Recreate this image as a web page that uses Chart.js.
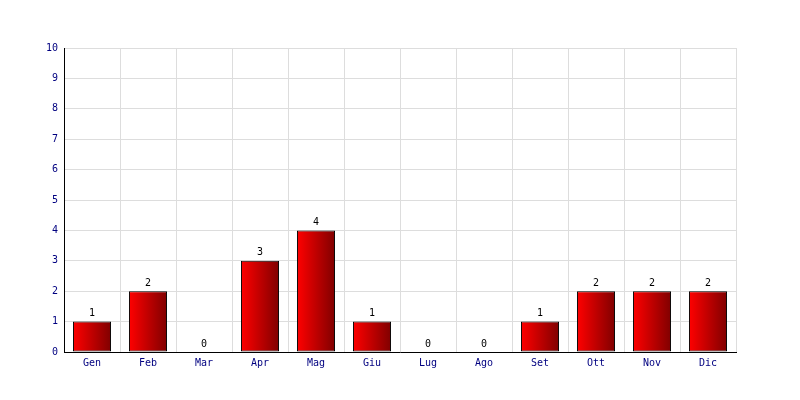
<!DOCTYPE html>
<html>
<head>
<meta charset="utf-8">
<script src="https://cdn.jsdelivr.net/npm/chart.js@4"></script>
<style>
  html, body { margin: 0; padding: 0; background: #ffffff; }
  #wrap { width: 800px; height: 400px; }
</style>
</head>
<body>
<div id="wrap"><canvas id="chart" width="800" height="400"></canvas></div>
<script>
// Monthly counts
const months = ["Gen", "Feb", "Mar", "Apr", "Mag", "Giu", "Lug", "Ago", "Set", "Ott", "Nov", "Dic"]
const counts = [1, 2, 0, 3, 4, 1, 0, 0, 1, 2, 2, 2]
const yTicks = [0, 1, 2, 3, 4, 5, 6, 7, 8, 9, 10]

const monoFont = { family: "'DejaVu Sans Mono', monospace", size: 10 }

// red -> dark red gradient across each bar
const gradientBars = {
  id: "gradientBars",
  beforeDatasetsDraw(chart) {
    const ctx = chart.ctx
    chart.getDatasetMeta(0).data.forEach(bar => {
      const g = ctx.createLinearGradient(bar.x - bar.width / 2, 0, bar.x + bar.width / 2, 0)
      g.addColorStop(0, "#ff0000")
      g.addColorStop(1, "#800000")
      bar.options = Object.assign({}, bar.options, { backgroundColor: g })
    })
  }
}

// value labels above each bar
const valueLabels = {
  id: "valueLabels",
  afterDatasetsDraw(chart) {
    const ctx = chart.ctx
    ctx.save()
    ctx.font = "10px 'DejaVu Sans Mono', monospace"
    ctx.fillStyle = "#000000"
    ctx.textAlign = "center"
    ctx.textBaseline = "bottom"
    chart.getDatasetMeta(0).data.forEach((bar, i) => {
      ctx.fillText(String(counts[i]), bar.x, bar.y - 3)
    })
    ctx.restore()
  }
}

new Chart(document.getElementById("chart"), {
  type: "bar",
  data: {
    labels: months,
    datasets: [{
      data: counts,
      backgroundColor: "#e00000",
      borderColor: "#000000",
      borderWidth: 1,
      borderSkipped: false,
      barPercentage: 0.68,
      categoryPercentage: 1
    }]
  },
  options: {
    responsive: false,
    animation: false,
    layout: { padding: { top: 48, right: 64, left: 0, bottom: 0 } },
    plugins: {
      legend: { display: false },
      tooltip: { enabled: false }
    },
    scales: {
      x: {
        afterFit(scale) { scale.height = 48 },
        grid: { color: "#dddddd", offset: true, drawTicks: false },
        border: { color: "#000000", width: 1 },
        ticks: { color: "#000080", font: monoFont, padding: 5 }
      },
      y: {
        min: 0,
        max: 10,
        afterFit(scale) { scale.width = 64 },
        afterBuildTicks(scale) { scale.ticks = yTicks.map(v => ({ value: v })) },
        grid: { color: "#dddddd", drawTicks: false },
        border: { color: "#000000", width: 1 },
        ticks: { color: "#000080", font: monoFont, padding: 6 }
      }
    }
  },
  plugins: [gradientBars, valueLabels]
})
</script>
</body>
</html>
